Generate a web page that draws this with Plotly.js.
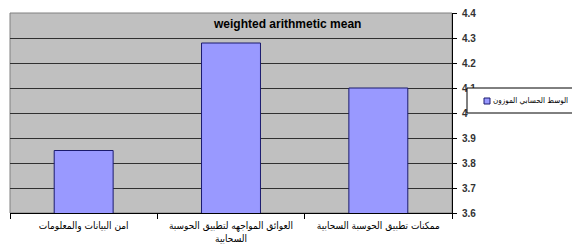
<!DOCTYPE html>
<html>
<head>
<meta charset="utf-8">
<script src="https://cdn.plot.ly/plotly-3.0.1.min.js"></script>
<style>html,body{margin:0;padding:0;background:#fff;}#chart{width:572px;height:245px;}</style>
</head>
<body>
<div id="chart"></div>
<script>
const categories = ["امن البيانات والمعلومات", "العوائق المواجهه لتطبيق الحوسبة<br>السحابية", "ممكنات تطبيق الحوسبة السحابية"];
const values = [3.85, 4.28, 4.1];
const seriesName = "الوسط الحسابي الموزون";
const yTickVals = [3.6, 3.7, 3.8, 3.9, 4.0, 4.1, 4.2, 4.3, 4.4];
const yTickText = ["3.6", "3.7", "3.8", "3.9", "4", "4.1", "4.2", "4.3", "4.4"];
const chartTitle = "weighted arithmetic mean";

const barColor = '#9999ff';
const barLine = '#1a1a6e';

const trace = {
  type: 'bar',
  x: categories,
  y: values,
  name: seriesName,
  showlegend: false,
  marker: {color: barColor, line: {color: barLine, width: 1}},
  hoverinfo: 'skip'
};

// legend drawn in paper coords (plot area: x 10..452, y 13..213)
const px = v => (v - 10) / 442;
const py = v => (213 - v) / 200;

const layout = {
  width: 572, height: 245,
  margin: {l: 10, r: 120, t: 13, b: 32, pad: 0, autoexpand: false},
  paper_bgcolor: '#ffffff',
  plot_bgcolor: '#c0c0c0',
  bargap: 0.6,
  showlegend: false,
  title: {
    text: '<b>' + chartTitle + '</b>',
    font: {family: 'Liberation Sans Narrow, Liberation Sans, sans-serif', size: 12, color: '#000'},
    xref: 'container', x: 0.503, xanchor: 'center',
    yref: 'container', y: 1 - 24/245, yanchor: 'middle'
  },
  xaxis: {
    type: 'category',
    tickson: 'boundaries',
    tickangle: 0,
    automargin: false,
    ticks: 'outside', ticklen: 5, tickcolor: '#000', tickwidth: 1,
    ticklabelstandoff: 3,
    showline: true, linecolor: '#000', linewidth: 1,
    showgrid: false,
    tickfont: {family: 'DejaVu Sans Condensed, DejaVu Sans, sans-serif', size: 10, color: '#000'},
    fixedrange: true
  },
  yaxis: {
    side: 'right',
    automargin: false,
    range: [3.6, 4.4],
    tickvals: yTickVals, ticktext: yTickText,
    ticks: 'outside', ticklen: 4, tickcolor: '#000', tickwidth: 1,
    ticklabelstandoff: 3,
    showline: true, linecolor: '#000', linewidth: 1,
    showgrid: true, gridcolor: '#303030', gridwidth: 1,
    zeroline: false,
    tickfont: {family: 'Liberation Sans Narrow, Liberation Sans, sans-serif', size: 10, color: '#333', weight: 'bold'},
    fixedrange: true
  },
  shapes: [
    {type: 'rect', xref: 'paper', yref: 'paper', x0: 0, x1: 1, y0: 0, y1: 1,
     line: {color: '#808080', width: 1}, layer: 'below'},
    {type: 'rect', xref: 'paper', yref: 'paper', x0: px(467), x1: px(600), y0: py(113), y1: py(88),
     fillcolor: '#ffffff', line: {color: '#000', width: 1}},
    {type: 'rect', xref: 'paper', yref: 'paper', x0: px(484), x1: px(490), y0: py(104), y1: py(98),
     fillcolor: barColor, line: {color: barLine, width: 1}}
  ],
  annotations: [
    {xref: 'paper', yref: 'paper', x: px(491), y: py(101), xanchor: 'left', yanchor: 'middle',
     text: seriesName, showarrow: false,
     font: {family: 'DejaVu Sans Condensed, DejaVu Sans, sans-serif', size: 8, color: '#000'}}
  ]
};

Plotly.newPlot('chart', [trace], layout, {displayModeBar: false, staticPlot: true});
</script>
</body>
</html>
